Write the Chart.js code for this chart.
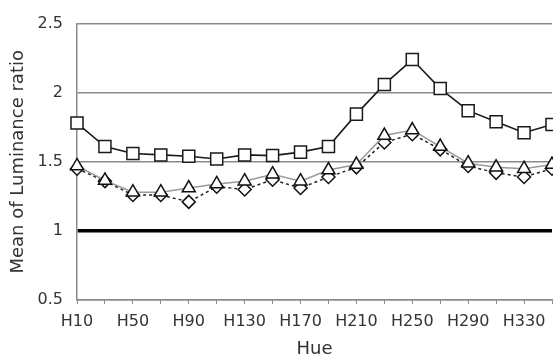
<!DOCTYPE html>
<html lang="en">
<head>
    <meta charset="UTF-8">
    <title>Mean of Luminance ratio by Hue</title>
    <script src="https://cdn.jsdelivr.net/npm/chart.js"></script>
    <style>
        html, body { margin: 0; padding: 0; background: #fff; overflow: hidden; }
        #wrap { width: 562px; height: 358px; }
    </style>
</head>
<body>
    <div id="wrap"><canvas id="lumChart" width="562" height="358"></canvas></div>

    <script>
        // hue categories, every other one gets a label
        const hues = ['H10', 'H30', 'H50', 'H70', 'H90', 'H110', 'H130', 'H150', 'H170',
                      'H190', 'H210', 'H230', 'H250', 'H270', 'H290', 'H310', 'H330', 'H350'];

        // values
        const squareSeries   = [1.78, 1.61, 1.56, 1.55, 1.54, 1.52, 1.55, 1.545, 1.57,
                                1.61, 1.845, 2.06, 2.24, 2.03, 1.87, 1.79, 1.71, 1.77];
        const triangleSeries = [1.47, 1.365, 1.28, 1.28, 1.31, 1.34, 1.36, 1.41, 1.36,
                                1.44, 1.48, 1.69, 1.73, 1.61, 1.49, 1.46, 1.45, 1.48];
        const diamondSeries  = [1.45, 1.36, 1.26, 1.26, 1.21, 1.32, 1.30, 1.37, 1.31,
                                1.39, 1.46, 1.64, 1.70, 1.59, 1.47, 1.42, 1.39, 1.45];

        const yTicks = { min: 0.5, max: 2.5, step: 0.5 };
        const textColor = '#333';
        const fontFamily = '"DejaVu Sans", sans-serif';

        const ctx = document.getElementById('lumChart').getContext('2d');

        new Chart(ctx, {
            type: 'line',
            data: {
                labels: hues,
                datasets: [
                    {
                        label: 'triangle',
                        data: triangleSeries,
                        borderColor: '#9a9a9a',
                        borderWidth: 1.5,
                        pointStyle: 'triangle',
                        pointRadius: 7.5,
                        pointBorderColor: '#111',
                        pointBackgroundColor: '#fff',
                        pointBorderWidth: 1.5,
                        tension: 0,
                        clip: false,
                        order: 1
                    },
                    {
                        label: 'diamond',
                        data: diamondSeries,
                        borderColor: '#222',
                        borderWidth: 1.5,
                        borderDash: [3, 3],
                        pointStyle: 'rectRot',
                        pointRadius: 6.5,
                        pointBorderColor: '#111',
                        pointBackgroundColor: '#fff',
                        pointBorderWidth: 1.5,
                        tension: 0,
                        clip: false,
                        order: 2
                    },
                    {
                        label: 'square',
                        data: squareSeries,
                        borderColor: '#1a1a1a',
                        borderWidth: 1.6,
                        pointStyle: 'rect',
                        pointRadius: 8.5,
                        pointBorderColor: '#1a1a1a',
                        pointBackgroundColor: '#fff',
                        pointBorderWidth: 1.5,
                        tension: 0,
                        clip: false,
                        order: 0
                    }
                ]
            },
            options: {
                responsive: false,
                animation: false,
                layout: { padding: { top: 18, right: 6, bottom: 0, left: 4 } },
                plugins: {
                    legend: { display: false },
                    tooltip: { enabled: false }
                },
                scales: {
                    x: {
                        offset: false,
                        afterFit: s => { s.height = 58; },
                        border: { color: '#8a8a8a', width: 1.5 },
                        grid: { drawOnChartArea: false, drawTicks: true, tickLength: 4, color: '#8a8a8a' },
                        ticks: {
                            autoSkip: false,
                            maxRotation: 0,
                            padding: 8,
                            color: textColor,
                            font: { family: fontFamily, size: 16 },
                            callback: (v, i) => (i % 2 === 0 ? hues[i] : '')
                        },
                        title: {
                            display: true,
                            text: 'Hue',
                            color: textColor,
                            padding: { top: 0, bottom: 0 },
                            font: { family: fontFamily, size: 18, lineHeight: 1 }
                        }
                    },
                    y: {
                        min: yTicks.min,
                        max: yTicks.max,
                        afterFit: s => { s.width = 73; },
                        border: { color: '#8a8a8a', width: 1.5 },
                        grid: {
                            drawTicks: false,
                            color: c => (c.tick && c.tick.value === 1 ? '#000' : '#8a8a8a'),
                            lineWidth: c => (c.tick && c.tick.value === 1 ? 3.5 : 1.5)
                        },
                        ticks: {
                            stepSize: yTicks.step,
                            padding: 14,
                            color: textColor,
                            font: { family: fontFamily, size: 16 },
                            callback: v => String(v)
                        },
                        title: {
                            display: true,
                            text: 'Mean of Luminance ratio',
                            color: textColor,
                            padding: { top: 5, bottom: 0 },
                            font: { family: fontFamily, size: 18, lineHeight: 1 }
                        }
                    }
                }
            }
        });
    </script>
</body>
</html>
